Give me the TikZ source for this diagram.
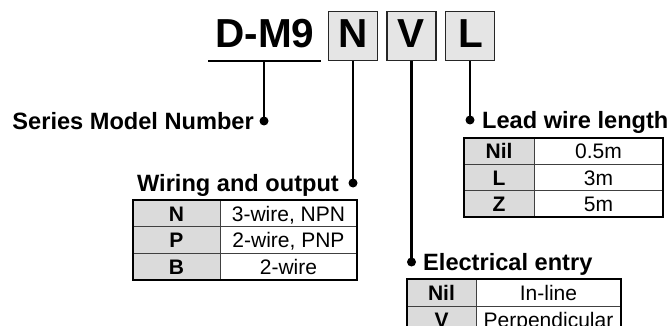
\documentclass[tikz,border=0pt]{standalone}
\usepackage{fontspec}
\setmainfont{Liberation Sans}
\begin{document}
\begin{tikzpicture}[x=1pt,y=-1pt,
  conn/.style={line width=2.1pt,black},
  dotmark/.style={circle,fill=black,inner sep=0pt,minimum size=9pt},
  codebox/.style={draw=black!85,line width=1.8pt,fill=black!10,minimum width=49pt,minimum height=49pt,inner sep=0pt},
  bigtxt/.style={font=\fontsize{40.5}{44}\selectfont\bfseries,inner sep=0pt},
  headtxt/.style={font=\fontsize{23.6}{28}\selectfont\bfseries,inner sep=0pt},
  keycell/.style={draw=black!75,line width=0.8pt,fill=black!14,inner sep=0pt},
  valcell/.style={draw=black!75,line width=0.8pt,fill=white,inner sep=0pt},
  frame/.style={draw=black,line width=1.5pt,inner sep=0pt},
  keytxt/.style={font=\fontsize{21}{24}\selectfont\bfseries,inner sep=0pt,anchor=base},
  valtxt/.style={font=\fontsize{21}{24}\selectfont,inner sep=0pt,anchor=base}]
\useasboundingbox (0,0) rectangle (672,326);

% title
\node[bigtxt,anchor=base] (title) at (265,47.5) {D-M9};
\coordinate (ulL) at (208,61);
\coordinate (ulR) at (321,61);
\coordinate (ulM) at (264,61);
\draw[conn] (ulL) -- (ulR);

\node[codebox] (bN) at (353,36) {};
\node[codebox] (bV) at (411.5,36) {};
\node[codebox] (bL) at (470,36) {};
\node[bigtxt,anchor=base] (tN) at (353,48) {N};
\node[bigtxt,anchor=base] (tV) at (411.5,48) {V};
\node[bigtxt,anchor=base] (tL) at (471,48) {L};

% dots
\node[dotmark] (dS) at (264,121) {};
\node[dotmark] (dW) at (353,183) {};
\node[dotmark] (dE) at (411.5,262) {};
\node[dotmark] (dL) at (470,120) {};

\draw[conn] (ulM) -- (dS.center);
\draw[conn] (bN.south) -- (dW.center);
\draw[conn] (bV.south) -- (dE.center);
\draw[conn] (bL.south) -- (dL.center);

% headings
\node[headtxt,anchor=base east] (hS) at (254,129.5) {Series Model Number};
\node[headtxt,anchor=base east] (hW) at (339,191.5) {Wiring and output};
\node[headtxt,anchor=base west] (hL) at (482,128.5) {Lead wire length};
\node[headtxt,anchor=base west] (hE) at (423,270.5) {Electrical entry};

% Wiring table
\foreach \r/\k/\v [count=\i] in {0/N/{3-wire, NPN},1/P/{2-wire, PNP},2/B/{2-wire}}{
  \node[keycell,minimum width=87pt,minimum height=26.67pt] (wk\i) at (176.5,213.33+26.67*\r) {};
  \node[valcell,minimum width=137pt,minimum height=26.67pt] (wv\i) at (288.5,213.33+26.67*\r) {};
  \node[keytxt] (wkt\i) at (176.5,221+26.67*\r) {\k};
  \node[valtxt] (wvt\i) at (288.5,221+26.67*\r) {\v};
}
\node[frame,minimum width=224pt,minimum height=80pt] (wframe) at (245,240) {};

% Lead wire table
\foreach \r/\k/\v [count=\i] in {0/Nil/0.5m,1/L/3m,2/Z/5m}{
  \node[keycell,minimum width=70pt,minimum height=26.33pt] (lk\i) at (499,151.17+26.33*\r) {};
  \node[valcell,minimum width=129pt,minimum height=26.33pt] (lv\i) at (598.5,151.17+26.33*\r) {};
  \node[keytxt] (lkt\i) at (499,158.8+26.33*\r) {\k};
  \node[valtxt] (lvt\i) at (598.5,158.8+26.33*\r) {\v};
}
\node[frame,minimum width=199pt,minimum height=79pt] (lframe) at (563.5,177.5) {};

% Electrical entry table (cut off at the lower edge, as in the reference)
\foreach \r/\k/\v [count=\i] in {0/Nil/In-line,1/V/Perpendicular}{
  \node[keycell,minimum width=69pt,minimum height=27pt] (ek\i) at (441.5,292.5+27*\r) {};
  \node[valcell,minimum width=145pt,minimum height=27pt] (ev\i) at (548.5,292.5+27*\r) {};
  \node[keytxt] (ekt\i) at (441.5,300.2+27*\r) {\k};
  \node[valtxt] (evt\i) at (548.5,300.2+27*\r) {\v};
}
\node[frame,minimum width=214pt,minimum height=54pt] (eframe) at (514,306) {};
\end{tikzpicture}
\end{document}
